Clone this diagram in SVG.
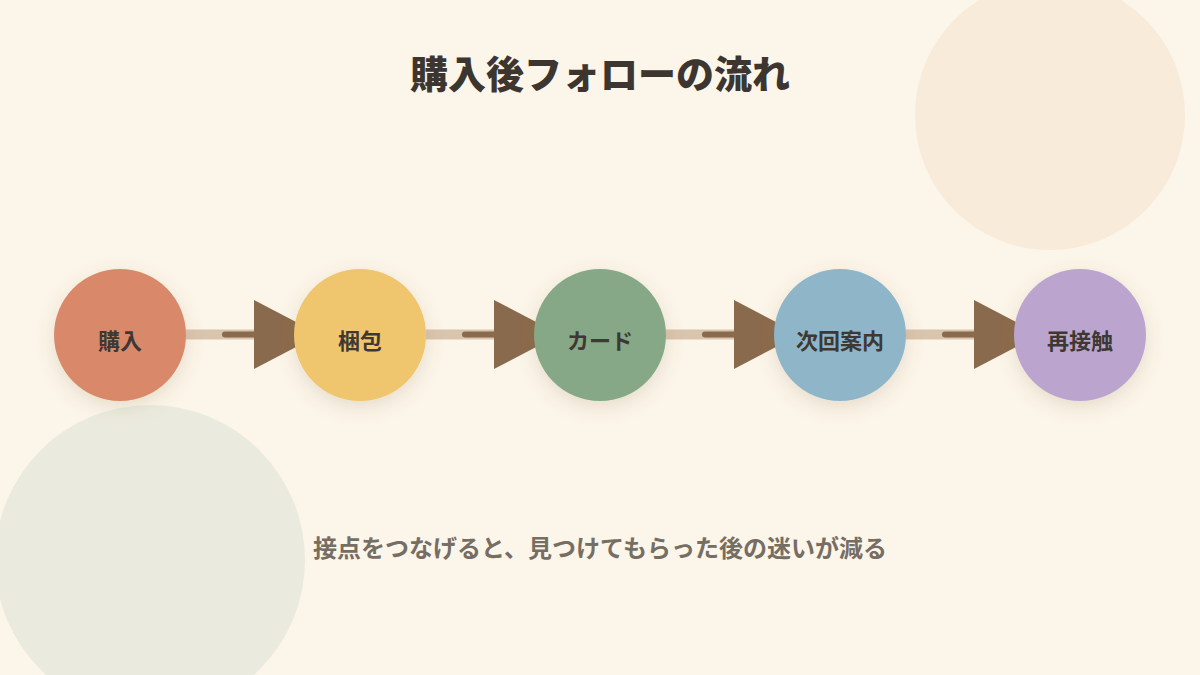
<svg xmlns="http://www.w3.org/2000/svg" width="1200" height="675" viewBox="0 0 1200 675">
<defs>
<filter id="sh" x="-50%" y="-50%" width="200%" height="200%">
<feDropShadow dx="0" dy="6" stdDeviation="9" flood-color="#8a6a40" flood-opacity="0.18"/>
</filter>
<style>
.bg{fill:#FBF5EA}
.lbl{font-family:"Noto Sans CJK JP","Noto Sans",sans-serif;font-size:22px;font-weight:700;fill:#3d3833;text-anchor:middle;dominant-baseline:central}
.band{stroke:#D9C5AE;stroke-width:10}
.shaft{stroke:#8A6A4C;stroke-width:6;stroke-linecap:round}
.head{fill:#8A6A4C}
</style>
</defs>
<rect class="bg" width="1200" height="675"/>
<circle cx="1050" cy="115" r="135" fill="#F8EBDA"/>
<circle cx="150" cy="560" r="155" fill="#EAEBDE"/>
<text x="600" y="71" font-family="Noto Sans CJK JP,sans-serif" font-size="38" font-weight="900" fill="#3d3530" text-anchor="middle" dominant-baseline="central">購入後フォローの流れ</text>
<g id="connectors">
<g><line class="band" x1="186" y1="334.5" x2="294" y2="334.5"/><line class="shaft" x1="225" y1="334.5" x2="262" y2="334.5"/><polygon class="head" points="254,300 320,334.5 254,369"/></g>
<g><line class="band" x1="426" y1="334.5" x2="534" y2="334.5"/><line class="shaft" x1="465" y1="334.5" x2="502" y2="334.5"/><polygon class="head" points="494,300 560,334.5 494,369"/></g>
<g><line class="band" x1="666" y1="334.5" x2="774" y2="334.5"/><line class="shaft" x1="705" y1="334.5" x2="742" y2="334.5"/><polygon class="head" points="734,300 800,334.5 734,369"/></g>
<g><line class="band" x1="906" y1="334.5" x2="1014" y2="334.5"/><line class="shaft" x1="945" y1="334.5" x2="982" y2="334.5"/><polygon class="head" points="974,300 1040,334.5 974,369"/></g>
</g>
<g id="n1"><circle cx="120" cy="335" r="66" fill="#D9896A" filter="url(#sh)"/><text class="lbl" x="120" y="339">購入</text></g>
<g id="n2"><circle cx="360" cy="335" r="66" fill="#EFC56E" filter="url(#sh)"/><text class="lbl" x="360" y="339">梱包</text></g>
<g id="n3"><circle cx="600" cy="335" r="66" fill="#86A886" filter="url(#sh)"/><text class="lbl" x="600" y="339">カード</text></g>
<g id="n4"><circle cx="840" cy="335" r="66" fill="#8FB5C8" filter="url(#sh)"/><text class="lbl" x="840" y="339">次回案内</text></g>
<g id="n5"><circle cx="1080" cy="335" r="66" fill="#BBA5CF" filter="url(#sh)"/><text class="lbl" x="1080" y="339">再接触</text></g>
<text x="600" y="546" font-family="Noto Sans CJK JP,sans-serif" font-size="24" font-weight="700" fill="#766d63" text-anchor="middle" dominant-baseline="central">接点をつなげると、見つけてもらった後の迷いが減る</text>
</svg>
